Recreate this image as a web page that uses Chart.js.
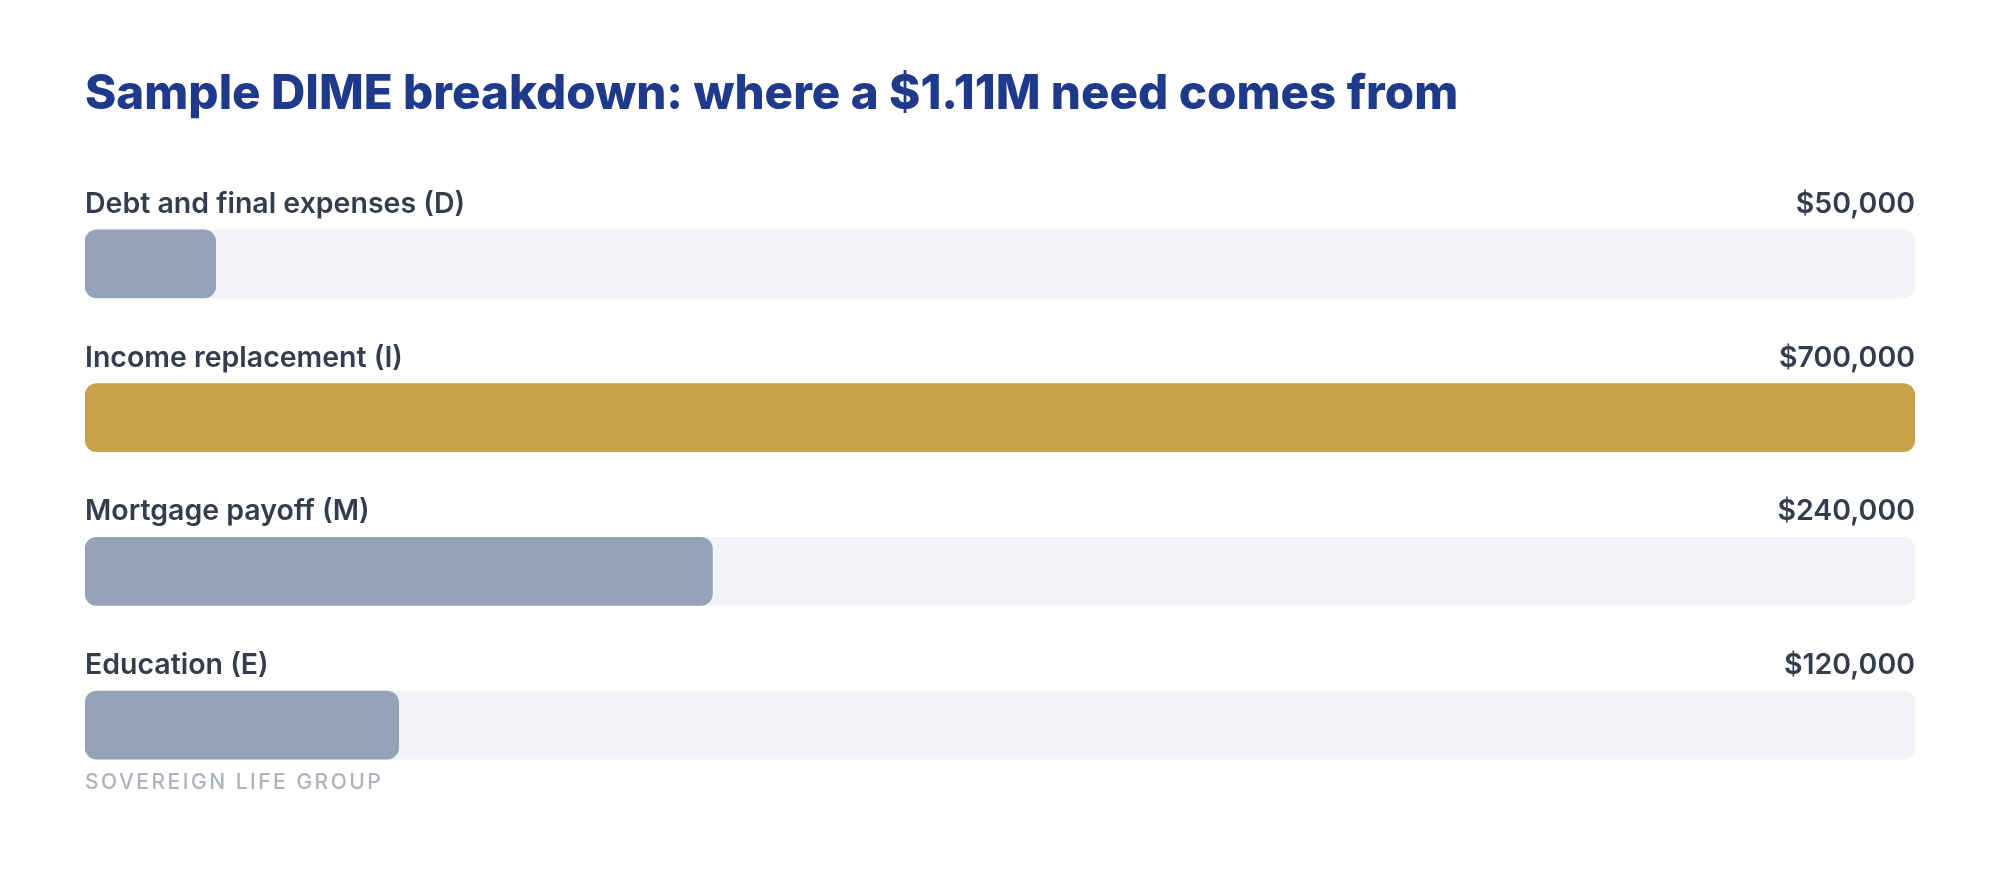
<!DOCTYPE html>
<html>
<head>
<meta charset="utf-8">
<script src="https://cdn.jsdelivr.net/npm/chart.js@4.4.1/dist/chart.umd.min.js"></script>
<style>
  html, body { margin: 0; padding: 0; background: #ffffff; }
  #wrap { width: 2000px; height: 880px; }
</style>
</head>
<body>
<div id="wrap"><canvas id="dimeChart"></canvas></div>
<script>
  const categories = ['Debt and final expenses (D)', 'Income replacement (I)', 'Mortgage payoff (M)', 'Education (E)'];
  const amounts = [50000, 700000, 240000, 120000];
  const barColors = ['#94a3b8', '#c9a24c', '#94a3b8', '#94a3b8'];
  const scaleMax = 700000;
  const trackValues = categories.map(() => scaleMax);

  const money = v => '$' + v.toLocaleString('en-US');

  // labels above each bar + footer line
  const rowLabels = {
    id: 'rowLabels',
    afterDatasetsDraw(chart) {
      const ctx = chart.ctx;
      const area = chart.chartArea;
      const bars = chart.getDatasetMeta(1).data;
      ctx.save();
      ctx.font = '600 28.5px Inter';
      ctx.fillStyle = '#353c4c';
      ctx.textBaseline = 'alphabetic';
      bars.forEach((bar, i) => {
        const top = bar.y - bar.height / 2;
        ctx.textAlign = 'left';
        ctx.fillText(categories[i], area.left, top - 17);
        ctx.textAlign = 'right';
        ctx.fillText(money(amounts[i]), area.right, top - 17);
      });
      const last = bars[bars.length - 1];
      ctx.font = '500 21px Inter';
      ctx.fillStyle = '#adb2bc';
      ctx.textAlign = 'left';
      ctx.letterSpacing = '2.5px';
      ctx.fillText('SOVEREIGN LIFE GROUP', area.left, last.y + last.height / 2 + 30);
      ctx.restore();
    }
  };

  new Chart(document.getElementById('dimeChart'), {
    type: 'bar',
    data: {
      labels: categories,
      datasets: [{
        label: 'Track',
        data: trackValues,
        backgroundColor: '#f1f3f6',
        borderRadius: 12,
        borderSkipped: false,
        barThickness: 68,
        grouped: false,
        order: 2
      }, {
        label: 'Amount',
        data: amounts,
        backgroundColor: barColors,
        borderRadius: 12,
        borderSkipped: false,
        barThickness: 68,
        grouped: false,
        order: 1
      }]
    },
    options: {
      indexAxis: 'y',
      responsive: true,
      maintainAspectRatio: false,
      animation: false,
      layout: {
        padding: { left: 85, right: 85, top: 0, bottom: 78 }
      },
      plugins: {
        legend: { display: false },
        tooltip: { enabled: false },
        title: {
          display: true,
          text: 'Sample DIME breakdown: where a $1.11M need comes from',
          align: 'start',
          color: '#1f3a8a',
          font: { family: 'Inter', size: 47.5, weight: '800', lineHeight: 1.2 },
          padding: { top: 66, bottom: 64 }
        }
      },
      scales: {
        x: { display: false, min: 0, max: scaleMax },
        y: { display: false }
      }
    },
    plugins: [rowLabels]
  });
</script>
</body>
</html>
